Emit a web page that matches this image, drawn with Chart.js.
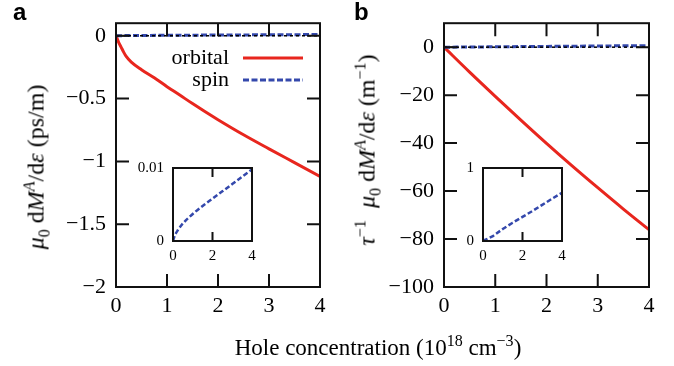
<!DOCTYPE html>
<html>
<head>
<meta charset="utf-8">
<script src="https://cdn.jsdelivr.net/npm/chart.js@4.4.1/dist/chart.umd.min.js"></script>
<style>
body { margin: 0; background: #fff; }
#wrap { position: relative; width: 674px; height: 366px; overflow: hidden; background: #fff; }
canvas { position: absolute; }
.txt { position: absolute; font-family: "Liberation Serif", serif; font-size: 23px; color: #000; white-space: nowrap; line-height: 23px; }
.txt sup, .txt sub { font-size: 16px; line-height: 0; }
.rot { transform: translate(-50%, -50%) rotate(-90deg); font-size: 24px; }
.panel { position: absolute; font-family: "Liberation Sans", Arial, sans-serif; font-weight: bold; font-size: 24px; line-height: 24px; }
</style>
</head>
<body>
<div id="wrap">
	<canvas id="mainA" width="340" height="366" style="left:0;top:0"></canvas>
	<canvas id="insetA" width="150" height="120" style="left:120px;top:150px"></canvas>
	<canvas id="mainB" width="337" height="366" style="left:337px;top:0"></canvas>
	<canvas id="insetB" width="150" height="120" style="left:430px;top:150px"></canvas>

	<div class="panel" style="left:13px;top:0px">a</div>
	<div class="panel" style="left:354px;top:0px">b</div>

	<div class="txt rot" style="left:36px;top:167px"><i>μ</i><sub>0</sub> d<i>M</i><sup><i>A</i></sup>/d<i>ε</i> (ps/m)</div>
	<div class="txt rot" style="left:367px;top:150px"><i>τ</i><sup>−1</sup>&nbsp; <i>μ</i><sub>0</sub> d<i>M</i><sup><i>A</i></sup>/d<i>ε</i> (m<sup>−1</sup>)</div>
	<div class="txt" style="left:378px;top:336px;transform:translateX(-50%)">Hole concentration (10<sup>18</sup> cm<sup>−3</sup>)</div>
</div>
<script>
// hole concentration (10^18 cm^-3)
var xOrbitalA = [0, 0.05, 0.1, 0.15, 0.2, 0.3, 0.5, 0.75, 1, 1.25, 1.5, 1.75, 2, 2.5, 3, 3.5, 4];
var orbitalA  = [0, -0.05, -0.09, -0.13, -0.165, -0.21, -0.27, -0.335, -0.405, -0.472, -0.54, -0.605, -0.668, -0.788, -0.9, -1.01, -1.12];

var xSpin = [0, 0.1, 0.25, 0.5, 1, 1.5, 2, 2.5, 3, 3.5, 4];
var spinA = [0, 0.0008, 0.0015, 0.0024, 0.0037, 0.0048, 0.0058, 0.0068, 0.0078, 0.0088, 0.0098];

var xOrbitalB = [0, 0.5, 1, 1.5, 2, 2.5, 3, 3.5, 4];
var orbitalB  = [0, -10.4, -20.5, -30.4, -40.1, -49.5, -58.6, -67.5, -76.1];
var spinB     = [0, 0.016, 0.033, 0.066, 0.165, 0.25, 0.33, 0.41, 0.495, 0.58, 0.66];

var xTicks      = [0, 1, 2, 3, 4];
var xTicksInset = [0, 2, 4];
var yTicksA     = [-2, -1.5, -1, -0.5, 0];
var yTicksB     = [-100, -80, -60, -40, -20, 0];
var yTicksInsetA = [0, 0.01];
var yTicksInsetB = [0, 1];

var red = 'rgb(232, 38, 30)';
var blue = 'rgb(52, 72, 172)';
var serif = '"Liberation Serif", "Times New Roman", serif';

function pts(xs, ys) {
	return xs.map((x, i) => ({x: x, y: ys[i]}));
}
function minus(v) {
	return v < 0 ? '\u2212' + Math.abs(v) : String(v);
}

// inward ticks on all four sides plus the box
const frame = {
	id: 'frame',
	afterDatasetsDraw(chart, args, opts) {
		const ctx = chart.ctx;
		const a = chart.chartArea;
		const x = chart.scales.x, y = chart.scales.y;
		ctx.save();
		ctx.strokeStyle = '#111';
		ctx.lineWidth = 2;
		ctx.beginPath();
		x.ticks.forEach(t => {
			const px = x.getPixelForValue(t.value);
			ctx.moveTo(px, a.bottom); ctx.lineTo(px, a.bottom - opts.len);
			ctx.moveTo(px, a.top); ctx.lineTo(px, a.top + opts.len);
		});
		if (opts.yTicks) {
			y.ticks.forEach(t => {
				const py = y.getPixelForValue(t.value);
				ctx.moveTo(a.left, py); ctx.lineTo(a.left + opts.len, py);
				ctx.moveTo(a.right, py); ctx.lineTo(a.right - opts.len, py);
			});
		}
		ctx.stroke();
		ctx.strokeRect(a.left, a.top, a.width, a.height);
		ctx.restore();
	}
};

const whiteBox = {
	id: 'whiteBox',
	beforeDraw(chart) {
		const a = chart.chartArea;
		chart.ctx.save();
		chart.ctx.fillStyle = '#fff';
		chart.ctx.fillRect(a.left, a.top, a.width, a.height);
		chart.ctx.restore();
	}
};

// legend drawn inside panel a: label right aligned, sample line on the right
const keyBox = {
	id: 'keyBox',
	afterDatasetsDraw(chart, args, opts) {
		if (!opts.show) return;
		const ctx = chart.ctx;
		ctx.save();
		ctx.font = '22px ' + serif;
		ctx.textAlign = 'right';
		ctx.textBaseline = 'middle';
		var row = 0;
		chart.data.datasets.forEach(ds => {
			if (!ds.label) return;
			const yy = opts.y + row * opts.step;
			ctx.fillStyle = '#000';
			ctx.fillText(ds.label, opts.x, yy);
			ctx.strokeStyle = ds.borderColor;
			ctx.lineWidth = ds.borderWidth;
			ctx.setLineDash(ds.borderDash || []);
			ctx.beginPath();
			ctx.moveTo(opts.x + 14, yy);
			ctx.lineTo(opts.x + 74, yy);
			ctx.stroke();
			row++;
		});
		ctx.restore();
	}
};

function makeChart(id, cfg) {
	return new Chart(document.getElementById(id), {
		type: 'line',
		data: {datasets: cfg.datasets},
		plugins: [whiteBox, frame, keyBox],
		options: {
			responsive: false,
			animation: false,
			devicePixelRatio: 1,
			layout: {padding: cfg.padding},
			elements: {point: {radius: 0}, line: {tension: 0}},
			plugins: {
				legend: {display: false},
				tooltip: {enabled: false},
				frame: {len: cfg.tickLen, yTicks: cfg.yTickMarks},
				keyBox: cfg.key || {show: false}
			},
			scales: {
				x: {
					type: 'linear', min: 0, max: 4,
					grid: {display: false, drawTicks: false},
					border: {display: false},
					afterBuildTicks: s => { s.ticks = cfg.xTicks.map(v => ({value: v})); },
					afterFit: s => { s.height = cfg.xHeight; },
					ticks: {color: '#000', padding: cfg.xPad, maxRotation: 0,
						font: {family: serif, size: cfg.font},
						callback: v => minus(v)}
				},
				y: {
					type: 'linear', min: cfg.yMin, max: cfg.yMax,
					grid: {display: false, drawTicks: false},
					border: {display: false},
					afterBuildTicks: s => { s.ticks = cfg.yTicks.map(v => ({value: v})); },
					afterFit: s => { s.width = cfg.yWidth; },
					ticks: {color: '#000', padding: cfg.yPad,
						font: {family: serif, size: cfg.font},
						callback: v => minus(v)}
				}
			}
		}
	});
}

function zeroLine() {
	return {data: pts([0, 4], [0, 0]), borderColor: '#000', borderWidth: 1.5, borderDash: [3, 3], order: 0};
}

makeChart('mainA', {
	datasets: [
		{label: 'orbital', data: pts(xOrbitalA, orbitalA), borderColor: red, borderWidth: 3, order: 2, cubicInterpolationMode: 'monotone'},
		{label: 'spin', data: pts(xSpin, spinA), borderColor: blue, borderWidth: 3, borderDash: [6, 2.5], order: 1},
		zeroLine()
	],
	padding: {top: 19, right: 20, left: 0, bottom: 0},
	xTicks: xTicks, yTicks: yTicksA, yMin: -2, yMax: 0.1,
	xHeight: 79, yWidth: 116, xPad: 6, yPad: 10, font: 22, tickLen: 13, yTickMarks: true,
	key: {show: true, x: 229, y: 58, step: 22}
});

makeChart('insetA', {
	datasets: [
		{data: pts(xSpin, spinA), borderColor: blue, borderWidth: 2.5, borderDash: [5, 2.5], cubicInterpolationMode: 'monotone'}
	],
	padding: {top: 13, right: 18, left: 0, bottom: 0},
	xTicks: xTicksInset, yTicks: yTicksInsetA, yMin: 0, yMax: 0.01,
	xHeight: 29, yWidth: 53, xPad: 6, yPad: 9, font: 15, tickLen: 9, yTickMarks: false
});

makeChart('mainB', {
	datasets: [
		{label: 'orbital', data: pts(xOrbitalB, orbitalB), borderColor: red, borderWidth: 3, order: 2, cubicInterpolationMode: 'monotone'},
		{label: 'spin', data: pts(xSpin, spinB), borderColor: blue, borderWidth: 3, borderDash: [6, 2.5], order: 1},
		zeroLine()
	],
	padding: {top: 19, right: 25, left: 0, bottom: 0},
	xTicks: xTicks, yTicks: yTicksB, yMin: -100, yMax: 10,
	xHeight: 79, yWidth: 107, xPad: 6, yPad: 10, font: 22, tickLen: 13, yTickMarks: true
});

makeChart('insetB', {
	datasets: [
		{data: pts(xSpin, spinB), borderColor: blue, borderWidth: 2.5, borderDash: [5, 2.5]}
	],
	padding: {top: 13, right: 18, left: 0, bottom: 0},
	xTicks: xTicksInset, yTicks: yTicksInsetB, yMin: 0, yMax: 1,
	xHeight: 29, yWidth: 53, xPad: 6, yPad: 9, font: 15, tickLen: 9, yTickMarks: false
});
</script>
</body>
</html>
